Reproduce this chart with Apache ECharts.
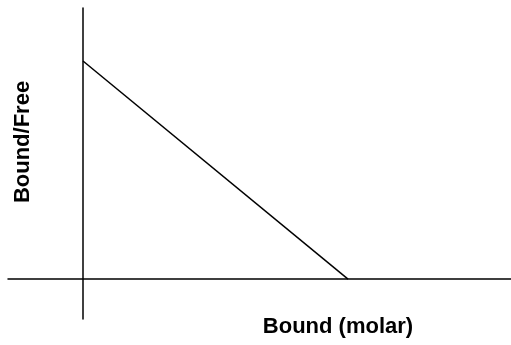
<!DOCTYPE html>
<html>
<head>
<meta charset="utf-8">
<script src="https://cdn.jsdelivr.net/npm/echarts@6/dist/echarts.min.js"></script>
<style>
    html, body { margin: 0; padding: 0; background: #fff; }
    #chart { width: 511px; height: 345px; }
</style>
</head>
<body>
<div id="chart"></div>
<script>
// Scatchard plot: bound vs bound/free, straight line between the two intercepts
const boundValues = [0, 1]
const boundFreeValues = [1, 0]
const xTitle = 'Bound (molar)'
const yTitle = 'Bound/Free'

const points = boundValues.map((b, i) => [b, boundFreeValues[i]])

const chart = echarts.init(document.getElementById('chart'))

const hiddenAxisBits = {
    axisTick: { show: false },
    axisLabel: { show: false },
    splitLine: { show: false }
}

chart.setOption({
    animation: false,
    grid: { left: 8, right: 0, top: 8, bottom: 26 },
    xAxis: {
        type: 'value',
        min: -0.283,
        max: 1.615,
        axisLine: { show: true, onZero: true, lineStyle: { color: '#000', width: 1.5 } },
        ...hiddenAxisBits
    },
    yAxis: {
        type: 'value',
        min: -0.183,
        max: 1.243,
        axisLine: { show: true, onZero: true, lineStyle: { color: '#000', width: 1.5 } },
        ...hiddenAxisBits
    },
    series: [
        {
            type: 'line',
            data: points,
            symbol: 'none',
            lineStyle: { color: '#000', width: 1.5 }
        }
    ],
    graphic: [
        {
            type: 'text',
            x: 338,
            y: 327,
            style: {
                text: xTitle,
                font: 'bold 22px "Liberation Sans", Arial, sans-serif',
                fill: '#000',
                align: 'center',
                verticalAlign: 'middle'
            }
        },
        {
            type: 'text',
            x: 23,
            y: 142,
            rotation: Math.PI / 2,
            style: {
                text: yTitle,
                font: 'bold 22px "Liberation Sans", Arial, sans-serif',
                fill: '#000',
                align: 'center',
                verticalAlign: 'middle'
            }
        }
    ]
})
</script>
</body>
</html>
